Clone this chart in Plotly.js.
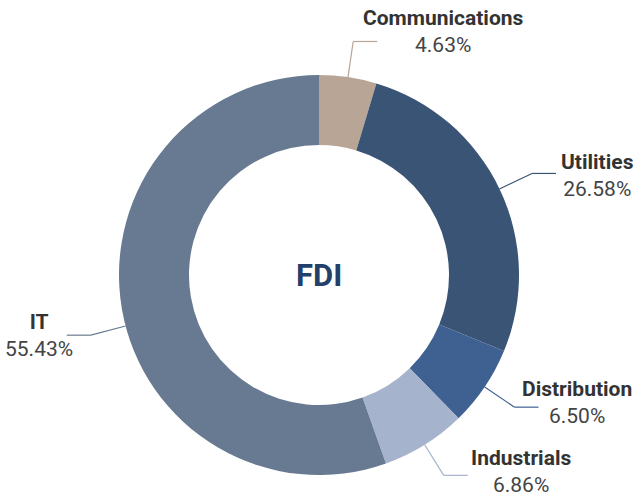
<!DOCTYPE html>
<html>
<head>
<meta charset="utf-8">
<script src="https://cdn.plot.ly/plotly-3.0.1.min.js"></script>
<style>html,body{margin:0;padding:0;background:#fff;}#chart{width:635px;height:497px;}</style>
</head>
<body>
<div id="chart"></div>
<script>
// ---- data ----
const categories = ['Communications', 'Utilities', 'Distribution', 'Industrials', 'IT'];
const shares = [4.63, 26.58, 6.50, 6.86, 55.43];
const shareLabels = ['4.63%', '26.58%', '6.50%', '6.86%', '55.43%'];
const centerLabel = 'FDI';

// ---- styles ----
const sliceColors = ['#b8a596', '#3a5475', '#3f6191', '#a5b4cc', '#687a91'];
// label layout tweaks (pixels / degrees), not data
const labelAngleShift = [0, 0, 0, 0, -5];
const labelNudge = [[-18, 10], [1, -2], [-21, 5], [-1, 4], [10, 0]];

const W = 635, H = 497, cx = 319, cy = 275, R = 200;
const R2 = 236, HL = 24;

const px = x => x / W;
const py = y => 1 - y / H;

const total = shares.reduce((a, b) => a + b, 0);
let cum = 0;
const shapes = [];
const annotations = [];
shares.forEach((v, i) => {
  const mid = (cum + v / 2) / total * 360 + labelAngleShift[i];
  cum += v;
  const a = mid * Math.PI / 180;
  const sx = cx + R * Math.sin(a), sy = cy - R * Math.cos(a);
  const ex = cx + R2 * Math.sin(a), ey = cy - R2 * Math.cos(a);
  const right = Math.sin(a) >= 0;
  const hx = ex + (right ? HL : -HL);
  const col = sliceColors[i];
  shapes.push({type: 'line', xref: 'paper', yref: 'paper', x0: px(sx), y0: py(sy), x1: px(ex), y1: py(ey), line: {color: col, width: 1.2}});
  shapes.push({type: 'line', xref: 'paper', yref: 'paper', x0: px(ex), y0: py(ey), x1: px(hx), y1: py(ey), line: {color: col, width: 1.2}});
  annotations.push({
    xref: 'paper', yref: 'paper',
    x: px(hx + (right ? 3 : -3)), y: py(ey),
    xanchor: right ? 'left' : 'right', yanchor: 'middle',
    xshift: labelNudge[i][0], yshift: labelNudge[i][1],
    showarrow: false, align: 'center', borderpad: 0,
    text: '<b>' + categories[i] + '</b><br><span style="color:#444">' + shareLabels[i] + '</span>',
    font: {family: 'Roboto, sans-serif', size: 21, color: '#333333'}
  });
});

annotations.push({
  xref: 'paper', yref: 'paper', x: px(cx), y: py(cy),
  xanchor: 'center', yanchor: 'middle', showarrow: false,
  text: '<b>' + centerLabel + '</b>',
  font: {family: 'Roboto, sans-serif', size: 31, color: '#22406a'}
});

const trace = {
  type: 'pie',
  labels: categories,
  values: shares,
  hole: 0.65,
  sort: false,
  direction: 'clockwise',
  rotation: 0,
  textinfo: 'none',
  hoverinfo: 'label+percent',
  marker: {colors: sliceColors, line: {width: 0}},
  domain: {x: [px(cx - R), px(cx + R)], y: [py(cy + R), py(cy - R)]},
  showlegend: false
};

Plotly.newPlot('chart', [trace], {
  width: W, height: H,
  margin: {l: 0, r: 0, t: 0, b: 0},
  paper_bgcolor: '#ffffff',
  showlegend: false,
  shapes: shapes,
  annotations: annotations,
  font: {family: 'Roboto, sans-serif'}
}, {displayModeBar: false});
</script>
</body>
</html>
